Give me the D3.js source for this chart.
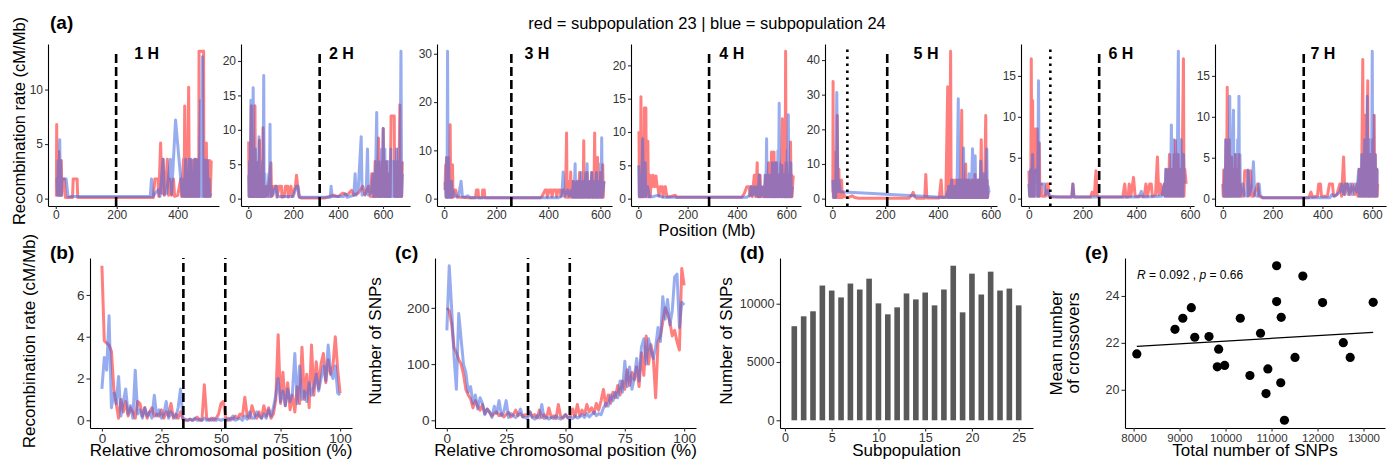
<!DOCTYPE html>
<html>
<head>
<meta charset="utf-8">
<script src="https://cdn.jsdelivr.net/npm/d3@7"></script>
<style>
  body { margin: 0; background: #fff; }
</style>
</head>
<body>
<svg id="fig" width="1395" height="465"></svg>
<script>
// ---------- data : panel (a), recombination rate along each chromosome [Mb, cM/Mb] ----------
const chromNames = ["1 H", "2 H", "3 H", "4 H", "5 H", "6 H", "7 H"];
const centromeres = [198, 318, 258, 287, 208, 262, 325];
const dottedMarks = [null, null, null, null, 57, 80, null];
const chromLabelPos = [298, 415, 356, 379, 355, 343, 402];
const yTickStep = [5, 5, 10, 5, 10, 5, 5];

const chr1Red = [[2,0.2],[3,6.8],[5,0.3],[6,4.3],[10,4.3],[12,0.3],[13,1.8],[15,0.3],[18,3.5],[20,0.3],[22,1.8],[28,1.8],[32,0.1],[55,0.1],[57,1.8],[70,1.8],[72,0.1],[320,0.1],[325,1.8],[335,1.8],[338,0.2],[344,5.1],[348,0.5],[352,3.6],[356,0.3],[362,1.8],[366,3.6],[370,0.3],[374,1.8],[380,0.3],[386,1.8],[390,0.2],[400,0.3],[410,1.8],[413,0.2],[419,3.6],[421,0.2],[423,8.5],[425,0.2],[428,3.6],[431,0.2],[436,10.2],[438,0.2],[441,3.6],[444,0.2],[447,1.8],[449,0.2],[451,3.5],[454,0.2],[457,3.6],[460,0.2],[463,1.8],[465,0.2],[467,3.6],[469,0.2],[470,13.5],[485,13.5],[486,0.2],[488,3.6],[490,0.2],[494,5.1],[496,0.2],[499,3.5],[502,0.2],[505,3.5],[507,0.2],[510,3.5]];
const chr1Blue = [[0,1.8],[4,1.8],[6,0.3],[8,3.5],[10,0.3],[13,5.4],[15,0.3],[16,3.5],[18,0.3],[20,1.8],[28,1.8],[34,1.8],[40,0.2],[310,0.2],[314,1.8],[318,0.2],[336,0.8],[342,0.2],[352,3.6],[356,0.4],[364,0.5],[376,3.6],[380,0.4],[393,7.2],[415,0.2],[420,1.8],[422,0.2],[426,3.6],[428,0.2],[432,1.8],[434,0.2],[438,3.6],[440,0.2],[444,3.6],[446,0.2],[450,1.8],[452,0.2],[456,3.6],[458,0.2],[462,3.6],[464,0.2],[468,1.8],[470,0.2],[472,3.6],[475,9.0],[477,0.2],[481,13.0],[483,0.2],[486,3.6],[488,0.2],[491,3.5],[493,0.2],[497,3.5],[499,0.2],[503,1.8],[505,0.2],[509,0.5]];

const chr2Red = [[2,8.3],[4,0.3],[7,3.6],[9,0.3],[14,13.5],[16,0.3],[19,3.6],[21,0.3],[24,7.0],[27,0.3],[30,13.5],[32,0.3],[35,3.6],[37,0.3],[40,5.2],[42,0.3],[45,1.8],[47,0.3],[50,8.5],[52,0.3],[55,1.8],[57,0.3],[60,3.6],[63,0.3],[66,10.3],[68,0.3],[72,1.8],[76,0.3],[84,1.8],[88,0.3],[101,5.2],[104,0.3],[116,1.8],[126,1.8],[128,0.2],[138,1.8],[148,1.8],[150,0.2],[160,0.3],[166,1.8],[176,1.8],[178,0.2],[190,1.8],[196,0.3],[210,1.8],[215,3.4],[220,1.8],[226,0.3],[235,0.1],[340,0.1],[360,0.3],[380,0.5],[400,0.3],[420,0.8],[440,0.5],[460,1.2],[470,0.5],[490,0.8],[510,1.8],[520,0.5],[535,1.8],[545,0.3],[550,3.6],[553,0.3],[558,1.8],[561,0.3],[565,5.4],[568,0.3],[571,3.6],[574,0.3],[580,8.8],[583,0.3],[587,3.6],[590,0.3],[596,5.4],[598,0.3],[601,10.2],[604,0.3],[608,3.6],[611,0.3],[615,5.4],[618,0.3],[622,3.6],[625,0.3],[630,1.8],[632,0.3],[636,12.0],[650,12.0],[652,0.3],[656,5.4],[659,0.3],[663,1.8],[665,0.3],[668,7.2],[670,0.3],[675,13.6],[677,0.3],[680,3.6],[683,0.3],[686,5.4]];
const chr2Blue = [[2,3.4],[4,0.3],[6,5.4],[8,0.3],[12,14.3],[14,0.3],[16,5.0],[19,0.3],[22,16.1],[25,0.3],[27,5.4],[29,0.3],[32,7.2],[35,0.3],[38,1.8],[40,0.3],[42,5.4],[45,0.3],[48,9.0],[50,0.3],[53,3.6],[56,0.3],[59,1.8],[61,0.3],[64,5.4],[66,0.3],[69,17.9],[71,0.3],[74,3.6],[77,0.3],[80,1.8],[85,0.5],[92,3.6],[94,0.3],[97,10.8],[99,0.3],[103,1.8],[110,0.5],[124,1.8],[130,0.3],[200,0.3],[215,1.8],[222,1.8],[228,0.2],[365,0.2],[369,1.8],[373,0.3],[425,0.3],[432,0.7],[440,0.2],[470,0.5],[476,3.6],[480,0.5],[490,1.5],[503,9.0],[507,0.5],[525,0.8],[531,7.2],[535,0.5],[548,1.0],[556,3.6],[559,0.3],[562,1.8],[565,0.3],[572,12.5],[575,0.3],[579,5.4],[582,0.3],[586,3.6],[589,0.3],[594,7.2],[597,0.3],[601,10.2],[604,0.3],[608,7.2],[611,0.3],[615,3.6],[618,0.3],[622,5.4],[625,0.3],[629,1.8],[632,0.3],[635,7.2],[638,0.3],[641,3.6],[644,0.3],[647,5.4],[650,0.3],[654,1.8],[657,0.3],[660,7.2],[663,0.3],[666,3.6],[669,0.3],[672,5.4],[675,0.3],[680,21.4],[683,0.3],[686,3.6]];

const chr3Red = [[3,1.8],[6,7.0],[8,0.3],[10,8.5],[12,0.3],[14,3.6],[16,0.3],[19,8.5],[21,0.3],[23,15.3],[25,0.3],[27,3.6],[29,0.3],[32,7.0],[34,0.3],[36,1.8],[44,1.8],[50,0.3],[70,0.3],[90,0.2],[120,0.2],[124,1.8],[130,1.8],[132,0.2],[146,0.2],[148,1.8],[154,1.8],[156,0.2],[370,0.2],[376,0.5],[388,1.8],[394,1.8],[396,0.3],[404,1.8],[412,1.8],[414,0.4],[420,1.8],[430,1.8],[432,0.4],[438,1.8],[446,1.8],[448,0.5],[456,1.8],[462,1.8],[466,0.3],[470,13.6],[472,0.3],[476,1.8],[478,0.3],[481,3.6],[483,0.3],[486,5.5],[488,0.3],[491,1.8],[493,0.3],[496,3.6],[498,0.3],[502,1.8],[504,0.3],[508,3.5],[510,0.3],[514,1.8],[516,0.3],[520,5.4],[522,0.3],[526,1.8],[528,0.3],[532,3.6],[534,0.3],[536,12.0],[538,0.3],[543,3.6],[545,0.3],[549,5.4],[551,0.3],[555,1.8],[557,0.3],[561,3.6],[563,0.3],[567,5.4],[569,0.3],[573,1.8],[575,0.3],[578,13.6],[580,0.3],[584,1.8],[586,0.3],[589,8.5],[591,0.3],[595,3.6],[597,0.3],[600,5.4],[602,0.3],[605,1.8],[607,0.3],[609,7.0],[611,0.3],[613,3.6]];
const chr3Blue = [[4,3.5],[7,0.3],[9,8.5],[11,0.3],[13,30.5],[15,0.3],[17,8.5],[19,0.3],[22,1.8],[25,0.3],[28,3.6],[30,0.3],[33,1.8],[40,0.5],[55,0.5],[65,3.6],[70,0.4],[80,0.3],[90,0.6],[100,0.2],[440,0.2],[452,0.5],[457,5.5],[461,0.5],[475,1.8],[480,0.5],[490,1.8],[493,0.3],[496,3.6],[499,0.3],[503,7.2],[505,0.3],[509,1.8],[511,0.3],[514,3.6],[516,0.3],[520,1.8],[522,0.3],[526,5.4],[528,0.3],[532,1.8],[534,0.3],[538,3.6],[540,0.3],[544,5.4],[546,0.3],[549,7.2],[551,0.3],[555,1.8],[557,0.3],[561,3.6],[563,0.3],[567,5.4],[569,0.3],[573,1.8],[575,0.3],[579,3.6],[581,0.3],[585,5.4],[587,0.3],[591,1.8],[593,0.3],[597,3.6],[599,0.3],[601,7.2],[603,0.3],[605,12.6],[607,0.3],[610,1.8],[614,3.6]];

const chr4Red = [[3,10.1],[5,0.3],[7,3.6],[9,0.3],[11,15.3],[13,0.3],[15,5.4],[17,0.3],[20,8.6],[22,0.3],[25,13.6],[31,13.6],[33,0.3],[35,3.6],[37,0.3],[39,8.6],[41,0.3],[43,1.8],[45,0.3],[47,3.5],[49,0.3],[52,3.4],[56,1.8],[60,3.5],[66,1.8],[72,3.4],[76,1.8],[80,1.8],[84,0.4],[90,1.8],[98,1.8],[100,0.3],[110,1.8],[116,0.3],[130,0.3],[150,0.5],[155,0.2],[420,0.2],[430,0.8],[440,1.8],[450,1.8],[452,0.4],[460,1.8],[462,0.3],[470,3.5],[476,0.3],[482,5.4],[484,0.3],[488,1.8],[490,0.3],[494,3.5],[496,0.3],[500,1.8],[504,0.3],[510,1.8],[512,0.3],[516,3.5],[518,0.3],[522,1.8],[524,0.3],[528,5.4],[530,0.3],[534,1.8],[536,0.3],[540,7.0],[542,0.3],[546,1.8],[548,0.3],[550,7.0],[552,0.3],[555,3.6],[557,0.3],[560,5.4],[562,0.3],[566,1.8],[568,0.3],[572,3.6],[574,0.3],[578,5.4],[580,0.3],[584,12.0],[586,0.3],[589,3.6],[591,0.3],[594,1.8],[595,0.3],[597,22.1],[599,0.3],[601,5.4],[603,0.3],[606,1.8],[608,0.3],[611,3.6],[613,0.3],[617,8.5],[619,0.3],[621,3.6],[623,0.3],[625,1.8],[628,3.5]];
const chr4Blue = [[2,5.0],[4,0.3],[6,1.8],[8,0.3],[12,3.6],[14,0.3],[18,9.0],[20,0.3],[22,3.6],[25,0.3],[28,5.4],[30,0.3],[32,1.8],[38,1.8],[45,0.3],[60,0.3],[80,0.5],[100,0.2],[440,0.2],[452,0.5],[457,1.8],[462,0.5],[470,1.8],[476,0.5],[482,1.8],[486,0.3],[490,3.6],[493,0.3],[496,1.8],[502,0.5],[508,1.8],[511,0.3],[514,3.6],[517,0.3],[520,9.0],[522,0.3],[526,1.8],[528,0.3],[532,3.5],[534,0.3],[538,1.8],[540,0.3],[543,5.4],[545,0.3],[549,3.6],[551,0.3],[555,5.4],[557,0.3],[561,1.8],[563,0.3],[566,7.2],[568,0.3],[571,14.3],[573,0.3],[577,3.6],[579,0.3],[582,5.0],[584,0.3],[588,1.8],[590,0.3],[593,3.6],[595,0.3],[599,5.4],[601,0.3],[604,7.2],[606,0.3],[608,12.6],[610,0.3],[613,3.6],[615,0.3],[618,5.4],[620,0.3],[624,1.8]];

const chr5Red = [[2,1.8],[3,33.8],[4,0.3],[5,5.4],[6,0.3],[7,13.5],[9,0.3],[11,3.6],[13,0.3],[15,5.4],[17,0.3],[19,24.0],[21,0.3],[23,3.6],[25,8.5],[27,0.3],[29,1.8],[32,0.3],[35,5.4],[38,0.3],[40,1.8],[48,0.5],[60,0.3],[75,0.8],[85,0.3],[100,0.1],[290,0.1],[300,1.0],[306,1.8],[312,0.6],[320,0.1],[350,0.1],[354,7.0],[358,0.2],[405,0.2],[412,5.4],[416,0.3],[430,0.5],[437,32.3],[439,0.3],[442,3.6],[444,0.3],[448,42.5],[450,0.3],[453,3.6],[455,0.3],[458,5.4],[460,0.3],[463,3.6],[465,0.3],[468,5.4],[470,0.3],[473,1.8],[475,0.3],[478,5.4],[480,0.3],[484,3.6],[486,0.3],[490,25.5],[492,0.3],[496,3.6],[498,0.3],[501,5.4],[503,0.3],[505,10.0],[507,0.3],[511,3.6],[513,0.3],[517,5.4],[519,0.3],[523,1.8],[525,0.3],[529,5.4],[531,0.3],[535,3.6],[537,0.3],[540,7.0],[542,0.3],[546,3.6],[548,0.3],[552,5.4],[554,0.3],[558,1.8],[560,0.3],[564,17.0],[566,0.3],[569,3.6],[571,0.3],[574,5.4],[576,0.3],[581,24.0],[583,0.3],[586,5.4],[588,0.3],[591,1.8],[594,1.8]];
const chr5Blue = [[2,5.4],[6,0.3],[10,3.6],[13,0.3],[17,30.6],[21,2.0],[25,5.4],[30,2.0],[430,0.3],[436,1.8],[438,0.3],[441,3.6],[443,0.3],[446,1.8],[448,0.3],[452,5.4],[454,0.3],[458,1.8],[460,0.3],[464,3.6],[466,0.3],[470,3.6],[472,0.3],[477,28.8],[479,0.3],[483,3.6],[485,0.3],[488,5.4],[490,0.3],[493,1.8],[495,0.3],[497,14.6],[499,0.3],[503,3.6],[505,0.3],[508,5.4],[510,0.3],[514,1.8],[516,0.3],[518,7.2],[520,0.3],[524,3.6],[526,0.3],[531,14.4],[533,0.3],[537,3.6],[539,0.3],[541,12.4],[543,0.3],[547,1.8],[549,0.3],[552,5.4],[554,0.3],[557,3.6],[559,0.3],[562,10.8],[564,0.3],[568,3.6],[570,0.3],[573,7.2],[575,0.3],[579,1.8],[581,0.3],[585,14.3],[587,0.3],[590,3.6],[594,1.8]];

const chr6Red = [[0,3.4],[3,0.3],[5,1.8],[7,0.3],[9,17.1],[11,0.3],[12,3.6],[13,0.3],[14,12.0],[16,0.3],[18,3.6],[20,0.3],[23,8.5],[31,8.5],[33,0.3],[35,1.8],[37,0.3],[39,6.8],[41,0.3],[43,1.8],[46,1.8],[50,0.3],[62,0.3],[66,1.8],[72,1.8],[74,0.3],[90,0.2],[160,0.2],[164,1.8],[168,0.2],[230,0.2],[236,0.8],[244,0.4],[250,3.4],[254,0.4],[262,0.2],[350,0.2],[357,1.8],[362,0.2],[370,0.2],[374,1.8],[380,0.3],[390,2.6],[396,0.3],[430,0.3],[436,1.8],[442,0.3],[450,1.8],[456,1.8],[460,0.3],[472,0.5],[479,5.1],[484,0.5],[490,1.8],[496,0.5],[505,1.8],[507,0.3],[512,3.6],[514,0.3],[518,1.8],[520,0.3],[524,5.4],[526,0.3],[530,3.6],[532,0.3],[536,1.8],[538,0.3],[541,5.4],[543,0.3],[546,7.1],[548,0.3],[551,1.8],[553,0.3],[556,5.4],[558,0.3],[562,3.6],[564,0.3],[568,1.8],[570,0.3],[576,17.1],[578,0.3],[581,3.6],[586,1.8]];
const chr6Blue = [[0,1.8],[3,0.3],[6,3.5],[9,0.3],[14,5.4],[17,0.3],[20,1.8],[23,0.3],[26,3.5],[29,0.3],[31,1.8],[33,0.3],[36,14.4],[38,0.3],[40,1.8],[46,1.8],[57,1.8],[62,0.5],[70,1.0],[78,0.3],[110,0.2],[160,0.2],[164,1.8],[168,0.2],[410,0.2],[419,0.9],[425,0.2],[495,0.3],[505,1.8],[507,0.3],[510,3.6],[512,0.3],[516,1.8],[518,0.3],[521,3.6],[523,0.3],[526,1.8],[528,0.3],[531,9.0],[533,0.3],[536,3.6],[538,0.3],[540,7.2],[542,0.3],[545,1.8],[547,0.3],[550,5.4],[552,0.3],[557,18.0],[559,0.3],[562,3.6],[564,0.3],[567,7.2],[569,0.3],[572,1.8],[574,0.3],[576,5.4],[579,1.8]];

const chr7Red = [[0,1.8],[2,0.3],[4,3.5],[6,0.3],[8,1.8],[10,0.3],[13,7.2],[15,0.3],[18,13.6],[20,0.3],[22,3.6],[24,0.3],[26,7.2],[28,0.3],[30,1.8],[32,0.3],[35,5.1],[37,0.3],[40,3.6],[42,0.3],[45,1.8],[47,0.3],[50,5.4],[52,0.3],[55,3.6],[57,0.3],[60,1.8],[62,0.3],[65,5.4],[67,0.3],[70,1.8],[76,0.3],[84,0.3],[88,3.4],[100,3.4],[103,0.3],[112,3.4],[116,0.3],[124,0.3],[140,1.8],[146,0.3],[160,0.1],[345,0.1],[354,0.8],[360,0.2],[380,0.3],[385,1.8],[392,1.8],[396,0.3],[420,0.3],[428,1.8],[440,1.8],[445,0.3],[458,0.5],[470,1.8],[477,0.3],[485,5.1],[490,0.5],[500,1.8],[510,0.5],[520,1.8],[530,0.5],[540,1.8],[542,0.3],[548,3.6],[550,0.3],[555,1.8],[557,0.3],[562,17.0],[564,0.3],[566,3.6],[568,0.3],[571,10.2],[573,0.3],[575,3.6],[577,0.3],[582,14.4],[584,0.3],[586,3.5],[588,0.3],[592,5.4],[594,0.3],[597,1.8],[599,0.3],[602,7.2],[604,0.3],[608,10.2],[610,0.3],[612,5.4],[614,0.3],[618,3.6],[620,0.3],[622,1.8]];
const chr7Blue = [[3,1.8],[5,0.3],[8,3.5],[10,0.3],[12,7.2],[14,0.3],[16,1.8],[18,0.3],[20,3.5],[22,0.3],[24,7.2],[26,0.3],[28,12.5],[30,0.3],[32,5.4],[34,0.3],[36,1.8],[38,0.3],[40,7.2],[43,10.8],[45,0.3],[47,3.6],[49,0.3],[52,5.4],[54,0.3],[56,1.8],[58,0.3],[60,7.2],[62,0.3],[65,12.5],[67,0.3],[69,5.4],[71,0.3],[74,1.8],[80,1.8],[86,0.4],[96,0.3],[102,3.5],[106,0.4],[118,1.8],[123,4.5],[128,0.4],[140,0.3],[146,1.8],[150,0.4],[162,0.1],[430,0.1],[438,0.5],[450,0.3],[470,0.8],[478,1.8],[486,0.5],[492,1.8],[500,1.8],[504,0.5],[512,1.8],[520,0.5],[530,1.8],[538,0.8],[546,3.6],[548,0.3],[552,1.8],[554,0.3],[558,5.4],[560,0.3],[564,3.6],[566,0.3],[570,7.2],[572,0.3],[575,1.8],[577,0.3],[580,12.5],[582,0.3],[584,3.6],[586,0.3],[590,7.2],[592,0.3],[595,5.4],[597,0.3],[600,18.0],[602,0.3],[604,10.2],[606,0.3],[608,3.6],[610,0.3],[612,5.4],[614,0.3],[616,1.8],[618,0.3],[620,3.6],[624,3.6]];

const chromRed = [chr1Red, chr2Red, chr3Red, chr4Red, chr5Red, chr6Red, chr7Red];
const chromBlue = [chr1Blue, chr2Blue, chr3Blue, chr4Blue, chr5Blue, chr6Blue, chr7Blue];

// ---------- data : panels (b) and (c), relative chromosomal position bins (%) ----------
const relBins = d3.range(0, 101);
const relCentro = [34.2, 51.8];
const recRed = [7.4,3.8,3.7,3.6,3.3,1.5,0.8,0.1,1.0,0.4,0.9,0.2,0.6,0.4,0.1,0.9,0.8,0.2,0.6,0.1,0.4,0.6,0.2,0.3,0.2,0.5,0.1,0.4,0.2,0.8,0.1,0.3,0.1,0.4,0.05,0.0,0.0,0.05,0.0,0.05,0.15,0.0,0.0,1.7,0.1,0.0,0.1,0.0,0.1,0.3,0.8,0.9,0.1,0.0,0.1,0.05,0.2,0.1,0.3,0.2,1.1,0.2,0.1,0.7,0.3,0.1,0.4,0.1,0.7,0.2,0.6,0.1,0.3,1.0,4.1,0.8,2.3,0.7,1.8,0.5,1.2,0.4,1.6,0.8,3.5,1.0,2.2,0.6,3.6,1.2,2.8,1.5,2.7,3.2,1.8,2.9,2.2,2.6,4.0,2.4,1.3];
const recBlue = [1.5,3.0,2.4,5.0,0.6,1.3,0.8,2.1,0.2,0.9,1.5,0.3,0.7,0.1,2.4,0.3,0.5,0.1,0.6,0.2,0.4,0.1,1.2,0.2,0.5,0.1,0.3,0.9,0.1,0.4,0.2,0.1,0.6,1.5,0.1,0.05,0.0,0.05,0.0,0.1,0.0,0.05,0.0,0.1,0.0,0.05,0.0,0.1,0.0,0.05,0.0,0.05,0.0,0.1,0.0,0.2,0.0,0.05,0.1,0.0,0.2,0.05,0.4,0.1,0.1,0.4,0.2,0.1,0.3,0.1,0.5,0.2,0.6,1.2,2.0,0.9,1.4,0.7,1.5,0.9,1.3,3.2,0.8,2.6,1.0,1.4,0.9,1.8,1.2,1.6,2.2,1.4,2.0,2.6,1.9,3.6,2.3,2.0,2.6,1.3,1.2];
const snpRed = [200,195,172,130,120,108,100,82,55,45,38,22,35,25,18,28,12,20,14,8,12,15,8,12,6,10,14,6,10,18,8,12,6,10,8,15,6,10,4,18,5,10,4,22,5,8,3,28,6,4,10,5,6,20,6,28,8,18,10,28,15,22,12,30,18,35,55,25,45,30,50,40,62,45,70,55,90,62,85,72,95,60,120,80,150,100,135,110,40,140,150,175,200,190,175,150,160,140,125,270,240];
const snpBlue = [160,275,200,115,55,190,145,100,85,50,60,30,45,20,40,30,10,20,15,5,25,12,35,8,15,35,5,12,8,5,10,20,6,5,3,15,5,2,8,4,28,3,6,2,5,3,8,4,2,6,10,4,5,3,8,4,6,10,5,12,6,10,15,8,12,10,22,30,25,45,35,50,40,70,50,105,60,95,55,75,110,70,130,145,100,145,125,110,130,165,140,220,180,215,170,195,255,260,165,210,205];

// ---------- data : panel (d) SNPs per subpopulation ----------
const subpops = [1,2,3,4,5,6,7,8,9,10,11,12,13,14,15,16,17,18,19,20,21,22,23,24,25];
const snpCounts = [8070,8920,9350,11560,11130,10540,11730,11220,12150,10030,9090,9690,10880,10370,10960,9860,11220,13260,9260,12580,10790,12750,11130,11300,9860];

// ---------- data : panel (e) total SNPs vs mean crossovers ----------
const totalSnps = [8070,8900,9070,9255,9330,9640,9850,9820,9980,10320,10530,10760,10920,10880,11110,11110,11210,11200,11280,11510,11680,12110,12560,12710,13210];
const meanCrossovers = [21.53,22.58,23.05,23.50,22.24,22.27,21.73,20.98,21.04,23.05,20.61,22.41,20.89,19.84,25.29,23.76,23.09,20.30,18.70,21.38,24.85,23.72,22.01,21.38,23.73];

// ---------- drawing ----------
const FONT = '"Liberation Sans", Arial, Helvetica, sans-serif';
const RED = "red", BLUE = "royalblue";
const svg = d3.select("#fig");
svg.append("rect").attr("width", 1395).attr("height", 465).attr("fill", "#fff");

function styleAxis(g, fs) {
  g.attr("font-family", FONT).attr("font-size", fs);
  g.select(".domain").attr("stroke", "#000").attr("stroke-width", 1.1);
  g.selectAll(".tick line").attr("stroke", "#333").attr("stroke-width", 1.1);
  g.selectAll(".tick text").attr("fill", "#333");
}

function addText(x, y, txt, opts) {
  const o = Object.assign({ size: 16, anchor: "middle", weight: "normal", rotate: 0 }, opts);
  return svg.append("text")
    .attr("transform", "translate(" + x + "," + y + ") rotate(" + o.rotate + ")")
    .attr("text-anchor", o.anchor)
    .attr("font-family", FONT)
    .attr("font-size", o.size)
    .attr("font-weight", o.weight)
    .attr("fill", "#000")
    .text(txt);
}

function expand(lo, hi) {
  const p = (hi - lo) * 0.05;
  return [lo - p, hi + p];
}

// ---- panel (a) ----
const aTop = 44, aBottom = 206;
const aPanels = [[48, 219], [241, 410], [437, 612], [631, 801], [825, 997], [1021, 1194], [1215, 1386]];

chromNames.forEach((name, i) => {
  const red = chromRed[i], blue = chromBlue[i];
  const all = red.concat(blue);
  const xExt = d3.extent(all, d => d[0]);
  const yMax = d3.max(all, d => d[1]);
  const x = d3.scaleLinear().domain(expand(xExt[0], xExt[1])).range(aPanels[i]);
  const y = d3.scaleLinear().domain(expand(0, yMax)).range([aBottom, aTop]);
  const line = d3.line().x(d => x(d[0])).y(d => y(d[1]));

  [[red, RED, 0.5], [blue, BLUE, 0.55]].forEach(s => {
    svg.append("path").datum(s[0])
      .attr("fill", "none").attr("stroke", s[1]).attr("stroke-opacity", s[2])
      .attr("stroke-width", 3).attr("stroke-linejoin", "round")
      .attr("d", line);
  });

  svg.append("line")
    .attr("x1", x(centromeres[i])).attr("x2", x(centromeres[i]))
    .attr("y1", aBottom).attr("y2", 52)
    .attr("stroke", "#000").attr("stroke-width", 2.6).attr("stroke-dasharray", "9,4");
  if (dottedMarks[i] !== null) {
    svg.append("line")
      .attr("x1", x(dottedMarks[i])).attr("x2", x(dottedMarks[i]))
      .attr("y1", aBottom).attr("y2", 49)
      .attr("stroke", "#000").attr("stroke-width", 2.6).attr("stroke-dasharray", "2.6,4.4");
  }

  const xDom = x.domain();
  const gx = svg.append("g").attr("transform", "translate(0," + aBottom + ")")
    .call(d3.axisBottom(x).tickValues([0, 200, 400, 600].filter(v => v >= xDom[0] && v <= xDom[1]))
      .tickSizeInner(3).tickSizeOuter(0).tickPadding(1));
  styleAxis(gx, 12);
  const gy = svg.append("g").attr("transform", "translate(" + aPanels[i][0] + ",0)")
    .call(d3.axisLeft(y).tickValues(d3.range(0, y.domain()[1], yTickStep[i]))
      .tickSizeInner(3).tickSizeOuter(0).tickPadding(2));
  styleAxis(gy, 12);

  addText(x(chromLabelPos[i]), 59, name, { size: 16, weight: "bold" });
});

addText(50, 29, "(a)", { size: 19, weight: "bold", anchor: "start" });
addText(707, 29, "red = subpopulation 23 | blue = subpopulation 24", { size: 16.5 });
addText(707, 236, "Position (Mb)", { size: 16.5 });
addText(25, 121, "Recombination rate (cM/Mb)", { size: 16.5, rotate: -90 });

// ---- lower row shared geometry ----
const lTop = 258, lBottom = 428;

function relPanel(left, right, redVals, blueVals, yTicks, label, labelX, yTitle, yTitleX) {
  const x = d3.scaleLinear().domain(expand(0, 100)).range([left, right]);
  const allVals = redVals.concat(blueVals);
  const y = d3.scaleLinear().domain(expand(0, d3.max(allVals))).range([lBottom, lTop]);
  const line = d3.line().x((d, j) => x(relBins[j])).y(d => y(d));
  [[redVals, RED, 0.5], [blueVals, BLUE, 0.55]].forEach(s => {
    svg.append("path").datum(s[0])
      .attr("fill", "none").attr("stroke", s[1]).attr("stroke-opacity", s[2])
      .attr("stroke-width", 3).attr("stroke-linejoin", "round")
      .attr("d", line);
  });
  relCentro.forEach(c => {
    svg.append("line")
      .attr("x1", x(c)).attr("x2", x(c)).attr("y1", lBottom).attr("y2", lTop)
      .attr("stroke", "#000").attr("stroke-width", 2.6).attr("stroke-dasharray", "9,4");
  });
  const gx = svg.append("g").attr("transform", "translate(0," + lBottom + ")")
    .call(d3.axisBottom(x).tickValues([0, 25, 50, 75, 100]).tickSizeInner(3.5).tickSizeOuter(0).tickPadding(2));
  styleAxis(gx, 13.5);
  const gy = svg.append("g").attr("transform", "translate(" + left + ",0)")
    .call(d3.axisLeft(y).tickValues(yTicks).tickSizeInner(3.5).tickSizeOuter(0).tickPadding(2));
  styleAxis(gy, 13.5);
  addText((left + right) / 2, 456, "Relative chromosomal position (%)", { size: 17 });
  addText(yTitleX, 341, yTitle, { size: 17, rotate: -90 });
  addText(labelX, 259, label, { size: 19, weight: "bold", anchor: "start" });
}

relPanel(90, 352, recRed, recBlue, [0, 2, 4, 6], "(b)", 50, "Recombination rate (cM/Mb)", 35);
relPanel(435, 696, snpRed, snpBlue, [0, 100, 200], "(c)", 395, "Number of SNPs", 381);

// ---- panel (d) ----
{
  const left = 780, right = 1033, bw = 0.6;
  const x = d3.scaleLinear().domain(expand(1 - bw / 2, 25 + bw / 2)).range([left, right]);
  const y = d3.scaleLinear().domain(expand(0, d3.max(snpCounts))).range([lBottom, lTop]);
  svg.append("g").selectAll("rect").data(subpops).join("rect")
    .attr("x", d => x(d - bw / 2))
    .attr("width", x(bw) - x(0))
    .attr("y", (d, j) => y(snpCounts[j]))
    .attr("height", (d, j) => y(0) - y(snpCounts[j]))
    .attr("fill", "#595959");
  const gx = svg.append("g").attr("transform", "translate(0," + lBottom + ")")
    .call(d3.axisBottom(x).tickValues([0, 5, 10, 15, 20, 25]).tickSizeInner(3.5).tickSizeOuter(0).tickPadding(2));
  styleAxis(gx, 12.5);
  const gy = svg.append("g").attr("transform", "translate(" + left + ",0)")
    .call(d3.axisLeft(y).tickValues([0, 5000, 10000]).tickFormat(d3.format("d")).tickSizeInner(3.5).tickSizeOuter(0).tickPadding(2));
  styleAxis(gy, 12.5);
  addText((left + right) / 2, 456, "Subpopulation", { size: 17 });
  addText(732, 341, "Number of SNPs", { size: 17, rotate: -90 });
  addText(740, 259, "(d)", { size: 19, weight: "bold", anchor: "start" });
}

// ---- panel (e) ----
{
  const left = 1125, right = 1385;
  const x = d3.scaleLinear().domain(expand(d3.min(totalSnps), d3.max(totalSnps))).range([left, right]);
  const y = d3.scaleLinear().domain(expand(d3.min(meanCrossovers), d3.max(meanCrossovers))).range([lBottom, lTop]);

  // least squares fit
  const mx = d3.mean(totalSnps), my = d3.mean(meanCrossovers);
  const sxy = d3.sum(totalSnps, (v, j) => (v - mx) * (meanCrossovers[j] - my));
  const sxx = d3.sum(totalSnps, v => (v - mx) * (v - mx));
  const slope = sxy / sxx, icpt = my - slope * mx;
  const xr = d3.extent(totalSnps);
  svg.append("line")
    .attr("x1", x(xr[0])).attr("y1", y(icpt + slope * xr[0]))
    .attr("x2", x(xr[1])).attr("y2", y(icpt + slope * xr[1]))
    .attr("stroke", "#000").attr("stroke-width", 1.2);

  svg.append("g").selectAll("circle").data(totalSnps).join("circle")
    .attr("cx", d => x(d))
    .attr("cy", (d, j) => y(meanCrossovers[j]))
    .attr("r", 4.6)
    .attr("fill", "#000");

  const gx = svg.append("g").attr("transform", "translate(0," + lBottom + ")")
    .call(d3.axisBottom(x).tickValues([8000, 9000, 10000, 11000, 12000, 13000]).tickFormat(d3.format("d"))
      .tickSizeInner(3.5).tickSizeOuter(0).tickPadding(2));
  styleAxis(gx, 11.5);
  const gy = svg.append("g").attr("transform", "translate(" + left + ",0)")
    .call(d3.axisLeft(y).tickValues([20, 22, 24]).tickSizeInner(3.5).tickSizeOuter(0).tickPadding(2));
  styleAxis(gy, 12.5);

  const stat = svg.append("text").attr("x", 1137).attr("y", 279)
    .attr("font-family", FONT).attr("font-size", 12).attr("fill", "#000");
  stat.append("tspan").attr("font-style", "italic").text("R");
  stat.append("tspan").text(" = 0.092 , ");
  stat.append("tspan").attr("font-style", "italic").text("p");
  stat.append("tspan").text(" = 0.66");

  addText((left + right) / 2, 456, "Total number of SNPs", { size: 17 });
  addText(1062, 343, "Mean number", { size: 17, rotate: -90 });
  addText(1079, 343, "of crossovers", { size: 17, rotate: -90 });
  addText(1085, 259, "(e)", { size: 19, weight: "bold", anchor: "start" });
}
</script>
</body>
</html>
